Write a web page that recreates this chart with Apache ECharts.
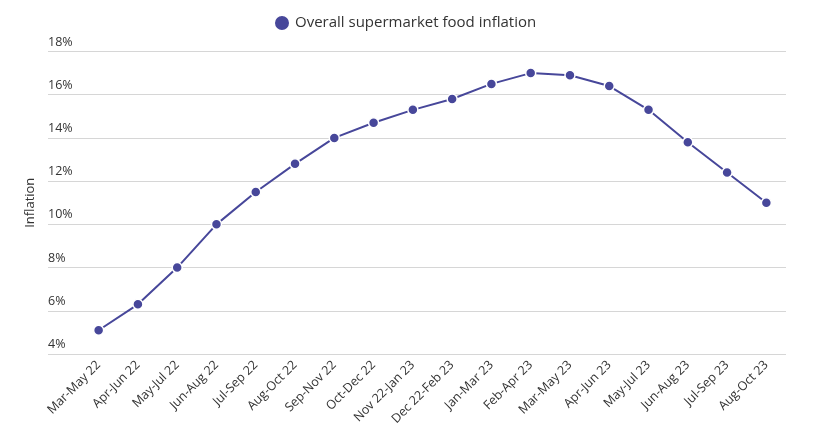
<!DOCTYPE html>
<html>
<head>
<meta charset="utf-8">
<script src="https://cdn.jsdelivr.net/npm/echarts@6/dist/echarts.min.js"></script>
<style>
html,body{margin:0;padding:0;background:#fff;}
#chart{width:816px;height:438px;}
</style>
</head>
<body>
<div id="chart"></div>
<script>
var categories = ["Mar-May 22","Apr-Jun 22","May-Jul 22","Jun-Aug 22","Jul-Sep 22","Aug-Oct 22","Sep-Nov 22","Oct-Dec 22","Nov 22-Jan 23","Dec 22-Feb 23","Jan-Mar 23","Feb-Apr 23","Mar-May 23","Apr-Jun 23","May-Jul 23","Jun-Aug 23","Jul-Sep 23","Aug-Oct 23"];
var inflation = [5.1, 6.3, 8.0, 10.0, 11.5, 12.8, 14.0, 14.7, 15.3, 15.8, 16.5, 17.0, 16.9, 16.4, 15.3, 13.8, 12.4, 11.0];
var seriesName = "Overall supermarket food inflation";
var yMin = 4, yMax = 18, yStep = 2;

var font = "'Open Sans', sans-serif";
var chart = echarts.init(document.getElementById('chart'));
chart.setOption({
  animation: false,
  textStyle: {fontFamily: font},
  legend: {
    top: 9, left: 268,
    icon: 'circle', itemWidth: 16, itemHeight: 16, itemGap: 10,
    textStyle: {fontSize: 15, color: '#333', fontFamily: font},
    data: [seriesName]
  },
  grid: [
    {left: 48, right: 30, top: 51.5, bottom: 84, containLabel: false},
    {left: 79, right: 30, top: 51.5, bottom: 84, containLabel: false}
  ],
  xAxis: [
    {gridIndex: 0, type: 'category', data: categories, show: false},
    {
      gridIndex: 1, type: 'category', data: categories, boundaryGap: true,
      axisLine: {show: false}, axisTick: {show: false},
      axisLabel: {rotate: 45, margin: 9, fontSize: 12.5, color: '#333', fontFamily: font, interval: 0}
    }
  ],
  yAxis: [
    {
      gridIndex: 0, type: 'value', min: yMin, max: yMax, interval: yStep,
      name: 'Inflation', nameLocation: 'middle', nameGap: 8, nameRotate: 90,
      nameTextStyle: {fontSize: 13, color: '#333', fontFamily: font},
      axisLine: {show: false}, axisTick: {show: false},
      axisLabel: {inside: true, margin: 0, verticalAlign: 'bottom', padding: [0,0,3,0],
        fontSize: 12.5, color: '#333', fontFamily: font,
        formatter: function(v){return v + '%';}},
      splitLine: {lineStyle: {color: '#d6d6d6', width: 1}}
    },
    {gridIndex: 1, type: 'value', min: yMin, max: yMax, interval: yStep, show: false, splitLine: {show: false}}
  ],
  series: [{
    name: seriesName, type: 'line', xAxisIndex: 1, yAxisIndex: 1,
    data: inflation,
    symbol: 'circle', symbolSize: 10,
    itemStyle: {color: '#47479a', borderColor: '#fff', borderWidth: 1.5},
    lineStyle: {color: '#47479a', width: 2}
  }]
});
</script>
</body>
</html>
